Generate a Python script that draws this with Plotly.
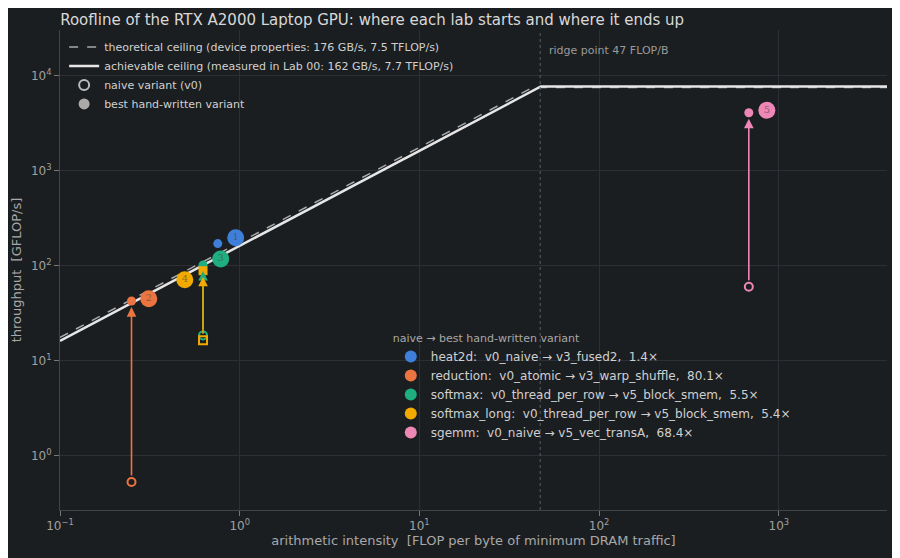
import math
import numpy as np
import plotly.graph_objects as go

# roofline parameters
BW_THEO, PEAK_THEO = 176.0, 7500.0
BW_MEAS, PEAK_MEAS = 162.0, 7700.0
RIDGE = 47

labs = ["heat2d", "reduction", "softmax", "softmax_long", "sgemm"]
lab_text = [
    "heat2d:  v0_naive → v3_fused2,  1.4×",
    "reduction:  v0_atomic → v3_warp_shuffle,  80.1×",
    "softmax:  v0_thread_per_row → v5_block_smem,  5.5×",
    "softmax_long:  v0_thread_per_row → v5_block_smem,  5.4×",
    "sgemm:  v0_naive → v5_vec_transA,  68.4×",
]
intensity = [0.755, 0.25, 0.625, 0.625, 681]
naive_gflops = [122, 0.53, 18.5, 16.4, 60]
best_gflops = [171, 42.5, 102, 88.6, 4070]
label_x = [0.95, 0.312, 0.784, 0.495, 858]
label_y = [197, 45, 118, 71, 4330]
colors = ["#3d7fd9", "#ec7440", "#1fae7e", "#f2a900", "#ec87b6"]
symbols = ["circle", "circle", "circle", "square", "circle"]

x_tickvals = [0.1, 1, 10, 100, 1000]
x_ticktext = ["10<sup>−1</sup>", "10<sup>0</sup>", "10<sup>1</sup>", "10<sup>2</sup>", "10<sup>3</sup>"]
y_tickvals = [1, 10, 100, 1000, 10000]
y_ticktext = ["10<sup>0</sup>", "10<sup>1</sup>", "10<sup>2</sup>", "10<sup>3</sup>", "10<sup>4</sup>"]

BG = "#1b1e21"
GRID = "#2c3035"
TXT = "#c8c8c8"

fig = go.Figure()

ai = np.logspace(-1, math.log10(4000), 400)
fig.add_trace(go.Scatter(
    x=ai, y=np.minimum(PEAK_THEO, BW_THEO * ai), mode="lines",
    line=dict(color="#a8a8a8", width=1.5, dash="dash"),
    name="theoretical ceiling (device properties: 176 GB/s, 7.5 TFLOP/s)",
))
fig.add_trace(go.Scatter(
    x=ai, y=np.minimum(PEAK_MEAS, BW_MEAS * ai), mode="lines",
    line=dict(color="#e6e6e6", width=2.5),
    name="achievable ceiling (measured in Lab 00: 162 GB/s, 7.7 TFLOP/s)",
))
# legend-only entries for marker meaning
fig.add_trace(go.Scatter(
    x=[None], y=[None], mode="markers",
    marker=dict(symbol="circle-open", size=10, color="#bbbbbb", line=dict(width=2)),
    name="naive variant (v0)",
))
fig.add_trace(go.Scatter(
    x=[None], y=[None], mode="markers",
    marker=dict(symbol="circle", size=11, color="#aaaaaa"),
    name="best hand-written variant",
))

for i, lab in enumerate(labs):
    c = colors[i]
    fig.add_trace(go.Scatter(
        x=[intensity[i]], y=[naive_gflops[i]], mode="markers",
        marker=dict(symbol=symbols[i] + "-open", size=8, color=c, line=dict(width=2)),
        showlegend=False,
    ))
    fig.add_trace(go.Scatter(
        x=[intensity[i]], y=[best_gflops[i]], mode="markers",
        marker=dict(symbol=symbols[i], size=9, color=c),
        showlegend=False,
    ))
    fig.add_trace(go.Scatter(
        x=[label_x[i]], y=[label_y[i]], mode="markers+text",
        marker=dict(symbol="circle", size=17, color=c),
        text=[str(i + 1)], textposition="middle center",
        textfont=dict(size=10, color="rgba(70,70,70,0.6)", family="DejaVu Serif"),
        name=lab_text[i], legend="legend2",
    ))
    fig.add_annotation(
        x=math.log10(intensity[i]), y=math.log10(best_gflops[i]),
        ax=math.log10(intensity[i]), ay=math.log10(naive_gflops[i]),
        xref="x", yref="y", axref="x", ayref="y",
        showarrow=True, arrowhead=2, arrowsize=1.2, arrowwidth=1.6, arrowcolor=c,
        standoff=6, startstandoff=5, text="",
    )

fig.add_vline(x=RIDGE, line=dict(color="#5a5f66", width=1, dash="dot"))
fig.add_annotation(
    x=math.log10(RIDGE) + 0.04, y=1, xref="x", yref="paper", yanchor="top",
    xanchor="left", showarrow=False, yshift=-12,
    text=f"ridge point {RIDGE} FLOP/B", font=dict(size=11, color="#9a9a9a"),
)

axis_common = dict(
    type="log", automargin=False,
    gridcolor=GRID, zeroline=False, showline=True, linecolor="#444",
    ticks="outside", tickcolor="#777", tickfont=dict(size=12, color="#a0a0a0"),
)
fig.update_xaxes(
    range=[-1, math.log10(4000)], tickvals=x_tickvals, ticktext=x_ticktext,
    title=dict(text="arithmetic intensity  [FLOP per byte of minimum DRAM traffic]",
               font=dict(size=13, color="#a8a8a8"), standoff=2),
    **axis_common,
)
fig.update_yaxes(
    range=[-0.57, 4.48], tickvals=y_tickvals, ticktext=y_ticktext,
    title=dict(text="throughput  [GFLOP/s]", font=dict(size=13, color="#a8a8a8"), standoff=6),
    **axis_common,
)

fig.update_layout(
    width=900, height=558,
    paper_bgcolor=BG, plot_bgcolor=BG,
    font=dict(family="DejaVu Sans", color=TXT),
    title=dict(text="Roofline of the RTX A2000 Laptop GPU: where each lab starts and where it ends up",
               x=0.058, xanchor="left", y=0.988, yanchor="top", font=dict(size=15, color="#d8d8d8")),
    margin=dict(l=52, r=21, t=22, b=56),
    legend=dict(x=0.005, y=0.995, xanchor="left", yanchor="top", bgcolor="rgba(0,0,0,0)",
                font=dict(size=11, color="#d0d0d0"), tracegroupgap=0, itemwidth=30),
    legend2=dict(x=0.4, y=0.38, xanchor="left", yanchor="top", bgcolor="rgba(0,0,0,0)",
                 title=dict(text="naive → best hand-written variant", font=dict(size=11, color="#a8a8a8")),
                 font=dict(size=12, color="#d0d0d0"), itemsizing="constant", tracegroupgap=3),
    showlegend=True,
)

fig.write_html("out.html")
